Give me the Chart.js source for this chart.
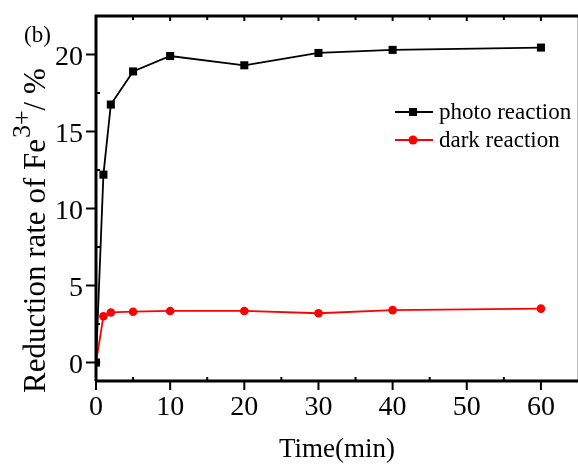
<!DOCTYPE html>
<html><head><meta charset="utf-8">
<script src="https://cdn.jsdelivr.net/npm/chart.js@4/dist/chart.umd.min.js"></script>
<style>html,body{margin:0;padding:0;background:#fff;overflow:hidden}#wrap{width:578px;height:466px}canvas{display:block}</style>
</head><body><div id="wrap"><canvas id="c" width="578" height="466"></canvas></div>
<script>
const times = [0, 1, 2, 5, 10, 20, 30, 40, 60];
const photoReaction = [0, 12.2, 16.75, 18.9, 19.9, 19.3, 20.1, 20.3, 20.45];
const darkReaction = [0, 3.0, 3.25, 3.3, 3.35, 3.35, 3.2, 3.4, 3.5];
const xTicks = [0, 10, 20, 30, 40, 50, 60];
const yTicks = [0, 5, 10, 15, 20];
const seriesNames = ['photo reaction', 'dark reaction'];

const FONT = '"Liberation Serif", "Times New Roman", serif';

const frame = {
  id: 'frame',
  afterDraw(chart) {
    const ctx = chart.ctx, a = chart.chartArea;
    const xs = chart.scales.x, ys = chart.scales.y;
    ctx.save();
    ctx.strokeStyle = '#bbb'; ctx.lineWidth = 1;
    ctx.beginPath(); ctx.moveTo(a.right - 0.5, a.top); ctx.lineTo(a.right - 0.5, a.bottom); ctx.stroke();
    ctx.strokeStyle = '#000';
    ctx.lineWidth = 3;
    ctx.beginPath();
    ctx.moveTo(a.left, a.bottom); ctx.lineTo(a.left, a.top); ctx.lineTo(a.right, a.top);
    ctx.moveTo(a.left, a.bottom); ctx.lineTo(a.right, a.bottom);
    ctx.stroke();
    // major ticks
    ctx.lineWidth = 2;
    ctx.beginPath();
    xTicks.forEach(v => { const p = xs.getPixelForValue(v); ctx.moveTo(p, a.bottom); ctx.lineTo(p, a.bottom + 9); ctx.moveTo(p, a.top); ctx.lineTo(p, a.top + 5); });
    yTicks.forEach(v => { const p = ys.getPixelForValue(v); ctx.moveTo(a.left, p); ctx.lineTo(a.left - 10, p); });
    // minor ticks
    [5, 15, 25, 35, 45, 55].forEach(v => { const p = xs.getPixelForValue(v); ctx.moveTo(p, a.bottom); ctx.lineTo(p, a.bottom - 4); ctx.moveTo(p, a.top); ctx.lineTo(p, a.top + 4); });
    [2.5, 7.5, 12.5, 17.5].forEach(v => { const p = ys.getPixelForValue(v); ctx.moveTo(a.left, p); ctx.lineTo(a.left + 4, p); });
    ctx.stroke();

    // tick labels
    ctx.fillStyle = '#000';
    ctx.font = '28px ' + FONT;
    ctx.textAlign = 'center'; ctx.textBaseline = 'alphabetic';
    xTicks.forEach(v => ctx.fillText(String(v), xs.getPixelForValue(v), a.bottom + 34));
    ctx.textAlign = 'right'; ctx.textBaseline = 'alphabetic';
    yTicks.forEach(v => ctx.fillText(String(v), a.left - 13, ys.getPixelForValue(v) + 10));

    // x title
    ctx.font = '27px ' + FONT;
    ctx.textAlign = 'center'; ctx.textBaseline = 'alphabetic';
    ctx.fillText('Time(min)', (a.left + a.right) / 2, 457);

    // y title with superscript
    ctx.save();
    ctx.translate(45, 0);
    ctx.rotate(-Math.PI / 2);
    const main = 'Reduction rate of Fe', sup = '3+', tail = '/ %';
    ctx.font = '31px ' + FONT;
    const w1 = ctx.measureText(main).width;
    ctx.font = '26px ' + FONT;
    const w2 = ctx.measureText(sup).width;
    let x0 = -393;
    ctx.textAlign = 'left'; ctx.textBaseline = 'alphabetic';
    ctx.font = '31px ' + FONT; ctx.fillText(main, x0, 0);
    ctx.font = '26px ' + FONT; ctx.fillText(sup, x0 + w1 + 1, -15);
    ctx.font = '31px ' + FONT; ctx.fillText(tail, x0 + w1 + w2 + 1, 0);
    ctx.restore();

    // (b)
    ctx.font = '23px ' + FONT; ctx.textAlign = 'left'; ctx.textBaseline = 'alphabetic';
    ctx.fillText('(b)', 24, 42);

    // legend
    const items = [
      { y: 112, color: '#000', style: 'rect' },
      { y: 140, color: '#ff0000', style: 'circle' }
    ];
    items.forEach((it, i) => {
      ctx.strokeStyle = it.color; ctx.lineWidth = 1.8;
      ctx.beginPath(); ctx.moveTo(395, it.y); ctx.lineTo(433, it.y); ctx.stroke();
      ctx.fillStyle = it.color;
      if (it.style === 'rect') ctx.fillRect(409, it.y - 4, 8, 8);
      else { ctx.beginPath(); ctx.arc(413, it.y, 4.5, 0, Math.PI * 2); ctx.fill(); }
      ctx.fillStyle = '#000'; ctx.font = '23px ' + FONT;
      ctx.textAlign = 'left'; ctx.textBaseline = 'alphabetic';
      ctx.fillText(seriesNames[i], 439, it.y + 7);
    });
    ctx.restore();
  }
};

new Chart(document.getElementById('c'), {
  type: 'line',
  data: {
    datasets: [
      { label: seriesNames[0], data: times.map((t, i) => ({ x: t, y: photoReaction[i] })),
        borderColor: '#000', backgroundColor: '#000', borderWidth: 1.8,
        pointStyle: 'rect', pointRadius: 5.7, pointBorderWidth: 0, tension: 0 },
      { label: seriesNames[1], data: times.map((t, i) => ({ x: t, y: darkReaction[i] })),
        borderColor: '#ff0000', backgroundColor: '#ff0000', borderWidth: 1.8,
        pointStyle: 'circle', pointRadius: 4.3, pointBorderWidth: 0, tension: 0 }
    ]
  },
  options: {
    responsive: false, animation: false, devicePixelRatio: 1,
    layout: { autoPadding: false, padding: { left: 0, right: 0, top: 16, bottom: 0 } },
    plugins: { legend: { display: false }, tooltip: { enabled: false } },
    scales: {
      x: { type: 'linear', min: 0, max: 65,
        ticks: { display: false }, grid: { display: false }, border: { display: false },
        afterFit(s) { s.height = 85; } },
      y: { type: 'linear', min: -1.2, max: 22.5,
        ticks: { display: false }, grid: { display: false }, border: { display: false },
        afterFit(s) { s.width = 96; } }
    }
  },
  plugins: [frame]
});
</script></body></html>
